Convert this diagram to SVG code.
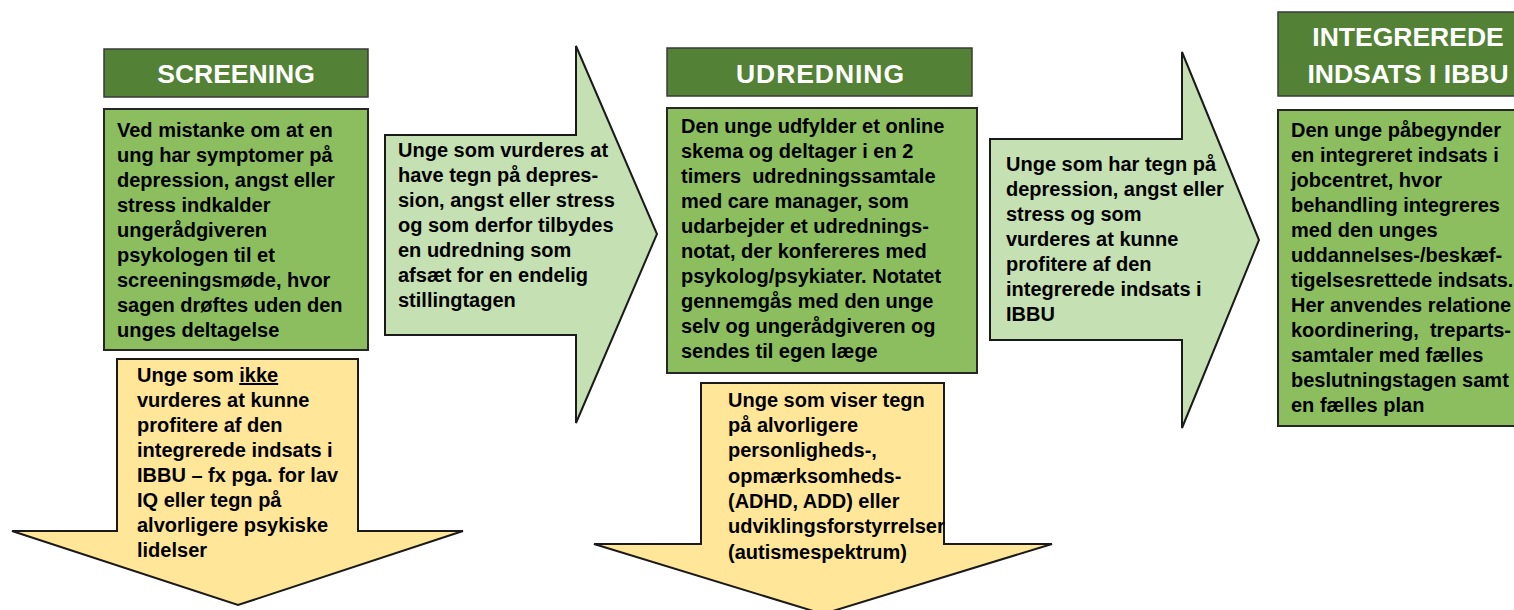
<svg xmlns="http://www.w3.org/2000/svg" width="1514" height="610" viewBox="0 0 1514 610">
<style>
.hdr{fill:#538135;stroke:#3a3a3a;stroke-width:1.5}
.box{fill:#8CBE5F;stroke:#262626;stroke-width:2}
.arr{fill:#C5E0B3;stroke:#1a1a1a;stroke-width:2;stroke-linejoin:miter}
.yel{fill:#FFE699;stroke:#1a1a1a;stroke-width:2;stroke-linejoin:miter}
.ht{font-family:"Liberation Sans",Arial,sans-serif;font-weight:bold;font-size:26.5px;fill:#ffffff;text-anchor:middle}
.bt{font-family:"Liberation Sans",Arial,sans-serif;font-weight:bold;font-size:20px;fill:#000000}
</style>
<rect width="1514" height="610" fill="#ffffff"/>

<g id="connectors">
  <g id="arrow-screening-udredning">
    <polygon class="arr" points="385,135 576,135 576,46 657,234 576,423 576,335 385,335"/>
    <text class="bt" x="398" y="157">
      <tspan x="398" y="157">Unge som vurderes at</tspan>
      <tspan x="398" y="182">have tegn på depres-</tspan>
      <tspan x="398" y="207">sion, angst eller stress</tspan>
      <tspan x="398" y="232">og som derfor tilbydes</tspan>
      <tspan x="398" y="257">en udredning som</tspan>
      <tspan x="398" y="282">afsæt for en endelig</tspan>
      <tspan x="398" y="307">stillingtagen</tspan>
    </text>
  </g>
  <g id="arrow-udredning-indsats">
    <polygon class="arr" points="990,139 1182,139 1182,52 1259,240 1182,428 1182,340 990,340"/>
    <text class="bt" x="1006" y="171">
      <tspan x="1006" y="171">Unge som har tegn på</tspan>
      <tspan x="1006" y="196">depression, angst eller</tspan>
      <tspan x="1006" y="221">stress og som</tspan>
      <tspan x="1006" y="246">vurderes at kunne</tspan>
      <tspan x="1006" y="271">profitere af den</tspan>
      <tspan x="1006" y="296">integrerede indsats i</tspan>
      <tspan x="1006" y="321">IBBU</tspan>
    </text>
  </g>
  <g id="arrow-screening-down">
    <polygon class="yel" points="117,359 358,359 358,531 463,531 238,605 12,531 117,531"/>
    <text class="bt" x="137" y="382">
      <tspan x="137" y="382">Unge som <tspan text-decoration="underline">ikke</tspan></tspan>
      <tspan x="137" y="407">vurderes at kunne</tspan>
      <tspan x="137" y="432">profitere af den</tspan>
      <tspan x="137" y="457">integrerede indsats i</tspan>
      <tspan x="137" y="482">IBBU – fx pga. for lav</tspan>
      <tspan x="137" y="507">IQ eller tegn på</tspan>
      <tspan x="137" y="532">alvorligere psykiske</tspan>
      <tspan x="137" y="557">lidelser</tspan>
    </text>
  </g>
  <g id="arrow-udredning-down">
    <polygon class="yel" points="701,383 944,383 944,544 1052,544 823,614 594,544 701,544"/>
    <text class="bt" x="728" y="407">
      <tspan x="728" y="407">Unge som viser tegn</tspan>
      <tspan x="728" y="432">på alvorligere</tspan>
      <tspan x="728" y="457">personligheds-,</tspan>
      <tspan x="728" y="483">opmærksomheds-</tspan>
      <tspan x="728" y="508">(ADHD, ADD) eller</tspan>
      <tspan x="728" y="533">udviklingsforstyrrelser</tspan>
      <tspan x="728" y="559">(autismespektrum)</tspan>
    </text>
  </g>
</g>

<g id="screening-header">
  <rect class="hdr" x="104" y="49" width="264" height="48"/>
  <text class="ht" x="236" y="83">SCREENING</text>
</g>
<g id="screening-box">
  <rect class="box" x="104" y="109" width="264" height="241"/>
  <text class="bt" x="117" y="137">
    <tspan x="117" y="137">Ved mistanke om at en</tspan>
    <tspan x="117" y="162">ung har symptomer på</tspan>
    <tspan x="117" y="187">depression, angst eller</tspan>
    <tspan x="117" y="212">stress indkalder</tspan>
    <tspan x="117" y="237">ungerådgiveren</tspan>
    <tspan x="117" y="262">psykologen til et</tspan>
    <tspan x="117" y="287">screeningsmøde, hvor</tspan>
    <tspan x="117" y="312">sagen drøftes uden den</tspan>
    <tspan x="117" y="337">unges deltagelse</tspan>
  </text>
</g>

<g id="udredning-header">
  <rect class="hdr" x="667" y="48" width="305" height="48"/>
  <text class="ht" x="820" y="83" textLength="168" lengthAdjust="spacing">UDREDNING</text>
</g>
<g id="udredning-box">
  <rect class="box" x="667" y="108" width="310" height="265"/>
  <text class="bt" x="681" y="133">
    <tspan x="681" y="133">Den unge udfylder et online</tspan>
    <tspan x="681" y="158">skema og deltager i en 2</tspan>
    <tspan x="681" y="183">timers &#160;udredningssamtale</tspan>
    <tspan x="681" y="208">med care manager, som</tspan>
    <tspan x="681" y="233">udarbejder et udrednings-</tspan>
    <tspan x="681" y="258">notat, der konfereres med</tspan>
    <tspan x="681" y="283">psykolog/psykiater. Notatet</tspan>
    <tspan x="681" y="308">gennemgås med den unge</tspan>
    <tspan x="681" y="333">selv og ungerådgiveren og</tspan>
    <tspan x="681" y="358">sendes til egen læge</tspan>
  </text>
</g>

<g id="indsats-header">
  <rect class="hdr" x="1278" y="12" width="262" height="84"/>
  <text class="ht" x="1408" y="46">INTEGREREDE</text>
  <text class="ht" x="1408" y="83">INDSATS I IBBU</text>
</g>
<g id="indsats-box">
  <rect class="box" x="1278" y="110" width="262" height="316"/>
  <text class="bt" x="1291" y="137">
    <tspan x="1291" y="137">Den unge påbegynder</tspan>
    <tspan x="1291" y="162">en integreret indsats i</tspan>
    <tspan x="1291" y="187">jobcentret, hvor</tspan>
    <tspan x="1291" y="212">behandling integreres</tspan>
    <tspan x="1291" y="237">med den unges</tspan>
    <tspan x="1291" y="262">uddannelses-/beskæf-</tspan>
    <tspan x="1291" y="287">tigelsesrettede indsats.</tspan>
    <tspan x="1291" y="312">Her anvendes relatione</tspan>
    <tspan x="1291" y="337">koordinering, &#160;treparts-</tspan>
    <tspan x="1291" y="362">samtaler med fælles</tspan>
    <tspan x="1291" y="387">beslutningstagen samt</tspan>
    <tspan x="1291" y="412">en fælles plan</tspan>
  </text>
</g>
</svg>
